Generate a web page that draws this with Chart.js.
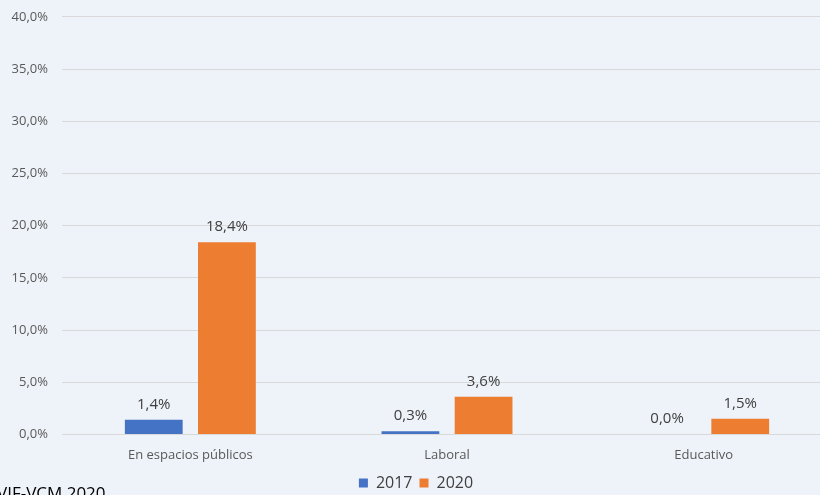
<!DOCTYPE html>
<html lang="es">
<head>
    <meta charset="UTF-8">
    <title>Violencia por ámbito 2017-2020</title>
    <style>
        html, body {
            margin: 0;
            padding: 0;
            width: 820px;
            height: 495px;
            overflow: hidden;
            background-color: #eef2f9;
            font-family: "Open Sans", Arial, sans-serif;
        }
        .chart-box {
            position: absolute;
            left: 0;
            top: -5px;
            width: 832px;
            height: 506px;
        }
        .source {
            position: absolute;
            left: -3px;
            top: 481px;
            font-size: 17px;
            color: #000;
            white-space: nowrap;
        }
    </style>
    <script src="https://cdn.jsdelivr.net/npm/chart.js"></script>
</head>
<body>
    <div class="chart-box">
        <canvas id="chart" width="832" height="506"></canvas>
    </div>
    <div class="source">VIF-VCM 2020</div>

    <script>
        const categories = ['En espacios públicos', 'Laboral', 'Educativo'];
        const values2017 = [1.4, 0.3, 0.0];
        const values2020 = [18.4, 3.6, 1.5];
        const yTicks = [0, 5, 10, 15, 20, 25, 30, 35, 40];

        const fmt = v => v.toFixed(1).replace('.', ',') + '%';

        // draw the value above each bar
        const valueLabels = {
            id: 'valueLabels',
            afterDatasetsDraw(chart) {
                const ctx = chart.ctx;
                ctx.save();
                ctx.font = '15px "Open Sans", Arial, sans-serif';
                ctx.fillStyle = '#404040';
                ctx.textAlign = 'center';
                ctx.textBaseline = 'bottom';
                chart.data.datasets.forEach((ds, i) => {
                    chart.getDatasetMeta(i).data.forEach((bar, j) => {
                        ctx.fillText(fmt(ds.data[j]), bar.x, bar.y - 8);
                    });
                });
                ctx.restore();
            }
        };

        new Chart(document.getElementById('chart'), {
            type: 'bar',
            data: {
                labels: categories,
                datasets: [
                    { label: '2017', data: values2017, backgroundColor: '#4472c4' },
                    { label: '2020', data: values2020, backgroundColor: '#ed7d31' }
                ]
            },
            options: {
                responsive: false,
                animation: false,
                categoryPercentage: 0.57,
                barPercentage: 0.79,
                layout: { padding: { top: 3, right: 0, bottom: 0, left: 0 } },
                plugins: {
                    legend: {
                        position: 'bottom',
                        labels: {
                            boxWidth: 9,
                            boxHeight: 9,
                            color: '#404040',
                            padding: 7,
                            font: { size: 16, family: '"Open Sans", Arial, sans-serif' }
                        }
                    },
                    tooltip: { enabled: false }
                },
                scales: {
                    x: {
                        grid: { display: false },
                        border: { display: false },
                        ticks: {
                            color: '#595959',
                            padding: 5,
                            font: { size: 13, family: '"Open Sans", Arial, sans-serif' }
                        }
                    },
                    y: {
                        min: 0,
                        max: 40,
                        afterBuildTicks(axis) {
                            axis.ticks = yTicks.map(v => ({ value: v }));
                        },
                        afterFit(axis) { axis.width = 62; },
                        grid: { color: '#d9d9d9', drawTicks: false },
                        border: { display: false },
                        ticks: {
                            color: '#595959',
                            padding: 14,
                            callback: v => fmt(v),
                            font: { size: 13, family: '"Open Sans", Arial, sans-serif' }
                        }
                    }
                }
            },
            plugins: [valueLabels]
        });
    </script>
</body>
</html>
